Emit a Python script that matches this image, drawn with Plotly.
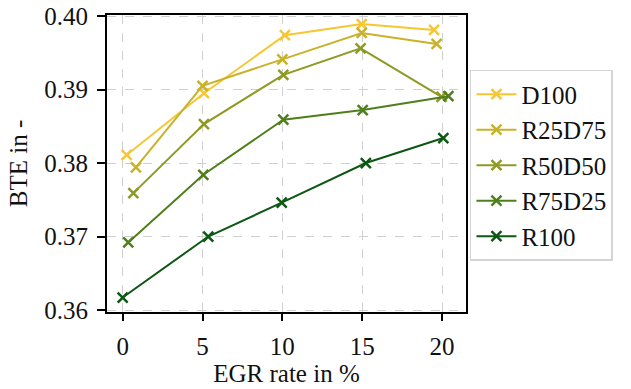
import plotly.graph_objects as go

series_names = ["D100", "R25D75", "R50D50", "R75D25", "R100"]
colors = ["#f7c631", "#c9b22a", "#8e9a22", "#4f7f1b", "#0d5714"]

x_d100 = [0.25, 5.09, 10.16, 14.97, 19.5]
y_d100 = [0.3811, 0.3895, 0.3974, 0.3989, 0.3981]
x_r25 = [0.83, 5.0, 10.0, 14.97, 19.66]
y_r25 = [0.3794, 0.3905, 0.3941, 0.3977, 0.3962]
x_r50 = [0.67, 5.09, 10.06, 14.9, 19.97]
y_r50 = [0.3759, 0.3853, 0.3920, 0.3956, 0.3890]
x_r75 = [0.35, 5.05, 10.06, 15.03, 20.4]
y_r75 = [0.3692, 0.3784, 0.3859, 0.3872, 0.3891]
x_r100 = [0.0, 5.36, 9.96, 15.23, 20.08]
y_r100 = [0.3617, 0.3700, 0.3746, 0.3800, 0.3834]

xs = [x_d100, x_r25, x_r50, x_r75, x_r100]
ys = [y_d100, y_r25, y_r50, y_r75, y_r100]

x_ticks = [0, 5, 10, 15, 20]
y_ticks = [0.36, 0.37, 0.38, 0.39, 0.40]
y_tick_labels = ["0.36", "0.37", "0.38", "0.39", "0.40"]

font_family = "Times New Roman"

fig = go.Figure()
for name, c, x, y in zip(series_names, colors, xs, ys):
    fig.add_trace(go.Scatter(
        x=x, y=y, name=name, mode="lines+markers",
        line=dict(color=c, width=2),
        marker=dict(symbol="x-thin", size=10, line=dict(color=c, width=2.5)),
    ))

fig.update_layout(
    width=631, height=389,
    margin=dict(l=107, r=165, t=15, b=77),
    paper_bgcolor="white", plot_bgcolor="white",
    font=dict(family=font_family, size=25, color="#111111"),
    showlegend=True,
    legend=dict(
        x=1.011, y=0.815, xanchor="left", yanchor="top",
        bordercolor="#d4d4d4", borderwidth=1.5,
        font=dict(family=font_family, size=25, color="#111111"),
        itemwidth=40, tracegroupgap=0,
        bgcolor="white",
    ),
)
fig.update_xaxes(
    range=[-0.98, 21.5], tickvals=x_ticks, automargin=False,
    tickfont=dict(family=font_family, size=25),
    showgrid=True, gridcolor="#d0d0d0", griddash="dash", gridwidth=1.3,
    showline=True, linecolor="black", linewidth=2, mirror=True,
    ticks="outside", ticklen=7, tickwidth=2, tickcolor="black",
    ticklabelstandoff=4,
    zeroline=False,
    title=dict(text="EGR rate in %", font=dict(family=font_family, size=25), standoff=3),
)
fig.update_yaxes(
    range=[0.35973, 0.40014], tickvals=y_ticks, ticktext=y_tick_labels, automargin=False,
    tickfont=dict(family=font_family, size=25),
    showgrid=True, gridcolor="#d0d0d0", griddash="dash", gridwidth=1.3,
    showline=True, linecolor="black", linewidth=2, mirror=True,
    ticks="outside", ticklen=8, tickwidth=2, tickcolor="black",
    ticklabelstandoff=4,
    zeroline=False,
    title=dict(text="BTE in -", font=dict(family=font_family, size=25), standoff=10),
)

fig.write_html("out.html")
